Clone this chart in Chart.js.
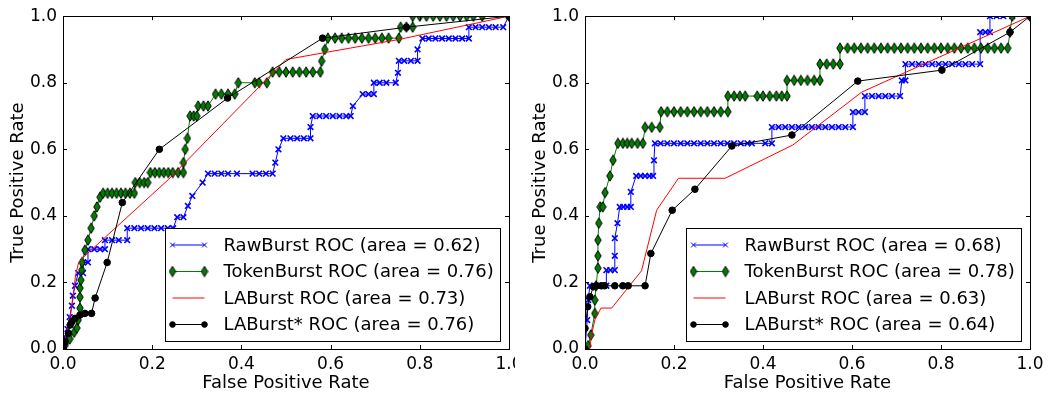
<!DOCTYPE html>
<html>
<head>
<meta charset="utf-8">
<script src="https://cdn.jsdelivr.net/npm/chart.js@4.4.1/dist/chart.umd.min.js"></script>
<style>
  html, body { margin: 0; padding: 0; background: #fff; }
  body { width: 1053px; height: 402px; position: relative; overflow: hidden; }
  #leftWrap { position: absolute; left: 0; top: 0; width: 515px; height: 402px; overflow: hidden; }
  #rightWrap { position: absolute; left: 522px; top: 0; width: 531px; height: 402px; }
</style>
</head>
<body>
<div id="leftWrap"><canvas id="rocLeft" width="540" height="402"></canvas></div>
<div id="rightWrap"><canvas id="rocRight" width="531" height="402"></canvas></div>
<script>
// ---- data: [false positive rate, true positive rate] ----
var tickValues = [0, 0.2, 0.4, 0.6, 0.8, 1.0];
var xTitle = 'False Positive Rate';
var yTitle = 'True Positive Rate';
var seriesNames = ['RawBurst ROC', 'TokenBurst ROC', 'LABurst ROC', 'LABurst* ROC'];
var areasLeft = [0.62, 0.76, 0.73, 0.76];
var areasRight = [0.68, 0.78, 0.63, 0.64];

var rawLeft = [[0,0],[0.005,0.036],[0.01,0.06],[0.015,0.096],[0.02,0.13],[0.022,0.16],[0.027,0.19],[0.034,0.228],[0.045,0.228],
  [0.045,0.26],[0.056,0.26],[0.056,0.30],[0.07,0.30],[0.083,0.30],[0.094,0.30],[0.094,0.327],[0.11,0.327],[0.125,0.327],[0.144,0.327],
  [0.144,0.363],[0.16,0.363],[0.175,0.363],[0.19,0.363],[0.205,0.363],[0.22,0.363],[0.235,0.363],[0.247,0.363],[0.256,0.396],[0.27,0.396],
  [0.28,0.43],[0.29,0.46],[0.313,0.50],[0.325,0.527],[0.34,0.527],[0.355,0.527],[0.37,0.527],[0.39,0.527],[0.425,0.527],[0.44,0.527],
  [0.455,0.527],[0.47,0.527],[0.476,0.56],[0.483,0.60],[0.494,0.633],[0.51,0.633],[0.525,0.633],[0.54,0.633],[0.555,0.633],[0.555,0.667],
  [0.56,0.70],[0.575,0.70],[0.59,0.70],[0.605,0.70],[0.62,0.70],[0.635,0.70],[0.645,0.70],[0.65,0.73],[0.672,0.766],[0.685,0.766],
  [0.697,0.766],[0.697,0.80],[0.71,0.80],[0.725,0.80],[0.746,0.80],[0.751,0.83],[0.753,0.866],[0.765,0.866],[0.78,0.866],[0.795,0.866],
  [0.795,0.90],[0.806,0.933],[0.82,0.933],[0.835,0.933],[0.85,0.933],[0.865,0.933],[0.88,0.933],[0.895,0.933],[0.91,0.933],[0.91,0.967],
  [0.925,0.967],[0.94,0.967],[0.955,0.967],[0.97,0.967],[0.987,0.967],[1,1]];
var tokenLeft = [[0,0],[0.005,0.012],[0.015,0.03],[0.025,0.05],[0.031,0.063],[0.034,0.087],[0.038,0.123],[0.038,0.156],[0.038,0.183],
  [0.04,0.207],[0.042,0.237],[0.043,0.26],[0.049,0.297],[0.056,0.327],[0.063,0.363],[0.07,0.40],[0.076,0.427],[0.083,0.456],[0.09,0.468],
  [0.1,0.468],[0.11,0.468],[0.12,0.468],[0.13,0.468],[0.14,0.468],[0.15,0.468],[0.16,0.468],[0.162,0.50],[0.172,0.50],[0.182,0.50],
  [0.19,0.50],[0.196,0.53],[0.206,0.53],[0.216,0.53],[0.226,0.53],[0.236,0.53],[0.246,0.53],[0.258,0.53],[0.27,0.53],[0.27,0.56],
  [0.274,0.60],[0.279,0.633],[0.285,0.70],[0.293,0.70],[0.3,0.70],[0.303,0.73],[0.315,0.73],[0.325,0.73],[0.342,0.766],[0.355,0.766],
  [0.37,0.766],[0.385,0.766],[0.393,0.80],[0.43,0.80],[0.44,0.80],[0.457,0.80],[0.47,0.832],[0.485,0.832],[0.5,0.832],[0.515,0.832],
  [0.53,0.832],[0.545,0.832],[0.56,0.832],[0.577,0.832],[0.58,0.865],[0.587,0.90],[0.594,0.934],[0.61,0.934],[0.625,0.934],[0.64,0.934],
  [0.655,0.934],[0.67,0.934],[0.685,0.934],[0.7,0.934],[0.715,0.934],[0.73,0.934],[0.753,0.934],[0.757,0.967],[0.77,0.967],[0.784,0.967],
  [0.784,1],[0.8,1],[0.815,1],[0.83,1],[0.845,1],[0.86,1],[0.875,1],[0.89,1],[0.905,1],[0.92,1],[0.94,1],[1,1]];
var laLeft = [[0,0],[0.005,0.03],[0.016,0.097],[0.023,0.157],[0.028,0.22],[0.035,0.26],[0.049,0.28],[0.237,0.51],[0.5,0.87],[0.753,0.93],[1,1]];
var starLeft = [[0,0],[0.001,0.007],[0.005,0.022],[0.012,0.047],[0.016,0.072],[0.02,0.082],[0.027,0.092],[0.038,0.102],[0.049,0.107],
  [0.064,0.107],[0.072,0.153],[0.099,0.26],[0.133,0.44],[0.216,0.60],[0.369,0.754],[0.582,0.934],[0.77,0.967],[1,1]];

var rawRight = [[0,0],[0.005,0.087],[0.007,0.147],[0.011,0.19],[0.02,0.19],[0.03,0.19],[0.04,0.19],[0.048,0.19],[0.048,0.237],
  [0.057,0.237],[0.067,0.237],[0.067,0.28],[0.067,0.333],[0.073,0.378],[0.078,0.427],[0.086,0.427],[0.095,0.427],[0.103,0.427],
  [0.103,0.472],[0.115,0.52],[0.125,0.52],[0.135,0.52],[0.145,0.52],[0.153,0.52],[0.155,0.567],[0.157,0.618],[0.17,0.618],[0.185,0.618],
  [0.2,0.618],[0.215,0.618],[0.23,0.618],[0.245,0.618],[0.26,0.618],[0.275,0.618],[0.29,0.618],[0.305,0.618],[0.32,0.618],[0.335,0.618],
  [0.35,0.618],[0.365,0.618],[0.375,0.618],[0.405,0.618],[0.42,0.618],[0.42,0.667],[0.435,0.667],[0.45,0.667],[0.465,0.667],[0.48,0.667],
  [0.495,0.667],[0.51,0.667],[0.525,0.667],[0.54,0.667],[0.555,0.667],[0.57,0.667],[0.585,0.667],[0.602,0.667],[0.602,0.712],[0.615,0.712],
  [0.629,0.712],[0.629,0.76],[0.645,0.76],[0.66,0.76],[0.675,0.76],[0.69,0.76],[0.708,0.76],[0.712,0.807],[0.72,0.807],[0.72,0.856],
  [0.735,0.856],[0.75,0.856],[0.765,0.856],[0.78,0.856],[0.795,0.856],[0.81,0.856],[0.825,0.856],[0.84,0.856],[0.855,0.856],[0.87,0.856],
  [0.888,0.856],[0.888,0.952],[0.9,0.952],[0.91,0.952],[0.91,1],[0.925,1],[0.94,1],[0.96,1],[1,1]];
var tokenRight = [[0,0],[0.007,0.01],[0.013,0.042],[0.022,0.107],[0.022,0.147],[0.025,0.19],[0.029,0.243],[0.029,0.28],[0.029,0.327],
  [0.031,0.378],[0.034,0.427],[0.04,0.427],[0.045,0.47],[0.056,0.52],[0.063,0.567],[0.074,0.618],[0.085,0.618],[0.095,0.618],[0.105,0.618],
  [0.118,0.618],[0.13,0.618],[0.135,0.666],[0.15,0.666],[0.168,0.666],[0.171,0.713],[0.185,0.713],[0.2,0.713],[0.215,0.713],[0.23,0.713],
  [0.245,0.713],[0.26,0.713],[0.275,0.713],[0.29,0.713],[0.305,0.713],[0.321,0.713],[0.321,0.76],[0.335,0.76],[0.348,0.76],[0.36,0.76],
  [0.387,0.76],[0.4,0.76],[0.415,0.76],[0.43,0.76],[0.442,0.76],[0.454,0.76],[0.454,0.807],[0.47,0.807],[0.485,0.807],[0.5,0.807],
  [0.515,0.807],[0.528,0.807],[0.528,0.856],[0.543,0.856],[0.558,0.856],[0.573,0.856],[0.573,0.904],[0.59,0.904],[0.605,0.904],[0.62,0.904],
  [0.635,0.904],[0.65,0.904],[0.665,0.904],[0.68,0.904],[0.695,0.904],[0.71,0.904],[0.725,0.904],[0.74,0.904],[0.755,0.904],[0.77,0.904],
  [0.785,0.904],[0.8,0.904],[0.815,0.904],[0.83,0.904],[0.845,0.904],[0.86,0.904],[0.875,0.904],[0.89,0.904],[0.905,0.904],[0.92,0.904],
  [0.935,0.904],[0.95,0.904],[0.955,0.952],[0.96,1],[1,1]];
var laRight = [[0,0],[0.01,0],[0.016,0.05],[0.022,0.087],[0.036,0.123],[0.06,0.123],[0.127,0.235],[0.161,0.417],[0.21,0.513],
  [0.315,0.513],[0.467,0.613],[0.622,0.772],[1,1]];
var starRight = [[0,0],[0,0.062],[0.006,0.127],[0.011,0.157],[0.019,0.187],[0.026,0.19],[0.037,0.19],[0.044,0.19],[0.067,0.19],
  [0.085,0.19],[0.097,0.19],[0.135,0.19],[0.148,0.287],[0.196,0.417],[0.247,0.48],[0.33,0.61],[0.465,0.643],[0.613,0.805],
  [0.802,0.838],[0.955,0.952],[1,1]];

var FONT = 'DejaVu Sans';

// thin diamond marker like matplotlib 'd'
var diamond = document.createElement('canvas');
diamond.width = 8; diamond.height = 12;
(function () {
  var c = diamond.getContext('2d');
  c.beginPath();
  c.moveTo(4, 0.8); c.lineTo(7.2, 6); c.lineTo(4, 11.2); c.lineTo(0.8, 6); c.closePath();
  c.fillStyle = '#008000'; c.fill();
  c.strokeStyle = '#000'; c.lineWidth = 1; c.stroke();
})();

function pts(arr) {
  return arr.map(function (p) { return { x: p[0], y: p[1] }; });
}

function makeDatasets(raw, token, la, star, areas) {
  return [{
    label: seriesNames[0] + ' (area = ' + areas[0].toFixed(2) + ')',
    data: pts(raw), borderColor: '#0000ff', backgroundColor: '#0000ff', borderWidth: 1,
    pointStyle: 'crossRot', pointRadius: 4, pointBorderWidth: 1.6, pointBorderColor: '#0000ff', order: 4, clip: 0
  }, {
    label: seriesNames[1] + ' (area = ' + areas[1].toFixed(2) + ')',
    data: pts(token), borderColor: '#008000', backgroundColor: '#008000', borderWidth: 1,
    pointStyle: diamond, pointRadius: 4, order: 3, clip: 0
  }, {
    label: seriesNames[2] + ' (area = ' + areas[2].toFixed(2) + ')',
    data: pts(la), borderColor: '#ff0000', backgroundColor: '#ff0000', borderWidth: 1,
    pointRadius: 0, order: 2, clip: 0
  }, {
    label: seriesNames[3] + ' (area = ' + areas[3].toFixed(2) + ')',
    data: pts(star), borderColor: '#000000', backgroundColor: '#000000', borderWidth: 1,
    pointStyle: 'circle', pointRadius: 3.3, pointBorderWidth: 1, pointBorderColor: '#000', order: 1, clip: 0
  }];
}

// frame, inward ticks and legend box drawn like matplotlib
var framePlugin = {
  id: 'frame',
  afterDatasetsDraw: function (chart) {
    var ctx = chart.ctx, a = chart.chartArea, sx = chart.scales.x, sy = chart.scales.y;
    ctx.save();
    ctx.strokeStyle = '#000';
    ctx.lineWidth = 1;
    ctx.beginPath();
    tickValues.forEach(function (v) {
      var px = Math.round(sx.getPixelForValue(v)) + 0.5;
      ctx.moveTo(px, a.bottom); ctx.lineTo(px, a.bottom - 4);
      ctx.moveTo(px, a.top); ctx.lineTo(px, a.top + 4);
      var py = Math.round(sy.getPixelForValue(v)) + 0.5;
      ctx.moveTo(a.left, py); ctx.lineTo(a.left + 4, py);
      ctx.moveTo(a.right, py); ctx.lineTo(a.right - 4, py);
    });
    ctx.stroke();
    ctx.strokeRect(Math.round(a.left) + 0.5, Math.round(a.top) + 0.5,
      Math.round(a.right - a.left), Math.round(a.bottom - a.top));

    // legend
    var bw = 335, bh = 113;
    var bx = Math.round(a.right - 9 - bw) + 0.5, by = Math.round(a.bottom - 8 - bh) + 0.5;
    ctx.fillStyle = '#fff';
    ctx.fillRect(bx, by, bw, bh);
    ctx.strokeRect(bx, by, bw, bh);
    ctx.font = '18px "' + FONT + '"';
    ctx.textBaseline = 'middle';
    ctx.textAlign = 'left';
    chart.data.datasets.forEach(function (ds, i) {
      var ry = by + 16.5 + i * 26.5;
      var x0 = bx + 7, x1 = bx + 39;
      ctx.strokeStyle = ds.borderColor;
      ctx.lineWidth = ds.borderWidth;
      ctx.beginPath(); ctx.moveTo(x0, ry); ctx.lineTo(x1, ry); ctx.stroke();
      if (ds.pointRadius > 0) {
        ctx.fillStyle = ds.backgroundColor;
        ctx.strokeStyle = ds.pointBorderColor || ds.borderColor;
        ctx.lineWidth = 1;
        var opt = { pointStyle: ds.pointStyle, radius: ds.pointRadius * 0.85, rotation: 0, borderWidth: 1 };
        Chart.helpers.drawPoint(ctx, opt, x0, ry);
        Chart.helpers.drawPoint(ctx, opt, x1, ry);
      }
      ctx.fillStyle = '#000';
      ctx.fillText(ds.label, bx + 58, ry + 1);
    });
    ctx.restore();
  }
};

function makeChart(id, datasets, padRight) {
  var tickFont = { family: FONT, size: 17 };
  var titleFont = { family: FONT, size: 18 };
  return new Chart(document.getElementById(id).getContext('2d'), {
    type: 'line',
    data: { datasets: datasets },
    plugins: [framePlugin],
    options: {
      responsive: false,
      animation: false,
      layout: { padding: { left: 0, top: 16, right: padRight, bottom: 0 } },
      plugins: { legend: { display: false }, tooltip: { enabled: false } },
      scales: {
        x: {
          type: 'linear', min: 0, max: 1,
          grid: { display: false, drawTicks: false },
          border: { display: false },
          afterBuildTicks: function (s) { s.ticks = tickValues.map(function (v) { return { value: v }; }); },
          afterFit: function (s) { s.height = 53; },
          ticks: { color: '#000', font: tickFont, padding: 5, maxRotation: 0, autoSkip: false,
            callback: function (v) { return Number(v).toFixed(1); } },
          title: { display: true, text: xTitle, color: '#000', font: titleFont, padding: { top: 0, bottom: 8 } }
        },
        y: {
          type: 'linear', min: 0, max: 1,
          grid: { display: false, drawTicks: false },
          border: { display: false },
          afterBuildTicks: function (s) { s.ticks = tickValues.map(function (v) { return { value: v }; }); },
          afterFit: function (s) { s.width = 63; },
          ticks: { color: '#000', font: tickFont, padding: 6, autoSkip: false,
            callback: function (v) { return Number(v).toFixed(1); } },
          title: { display: true, text: yTitle, color: '#000', font: titleFont, padding: { top: 8, bottom: 0 } }
        }
      }
    }
  });
}

makeChart('rocLeft', makeDatasets(rawLeft, tokenLeft, laLeft, starLeft, areasLeft), 31);
makeChart('rocRight', makeDatasets(rawRight, tokenRight, laRight, starRight, areasRight), 23);
</script>
</body>
</html>
